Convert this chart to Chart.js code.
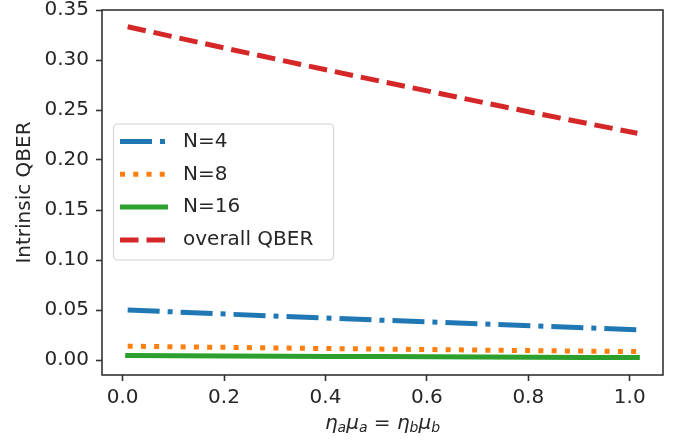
<!DOCTYPE html>
<html>
<head>
<meta charset="utf-8">
<script src="https://cdn.jsdelivr.net/npm/chart.js@4.4.0/dist/chart.umd.min.js"></script>
<style>
  html, body { margin: 0; padding: 0; background: #fff; }
  #wrap { width: 681px; height: 443px; }
</style>
</head>
<body>
<div id="wrap"><canvas id="chart" width="681" height="443"></canvas></div>
<script>
// values
const xValues = [0.01, 0.11, 0.21, 0.31, 0.41, 0.51, 0.61, 0.71, 0.81, 0.91, 1.015];
const qberN4 = [0.0500, 0.0479, 0.0458, 0.0438, 0.0418, 0.0398, 0.0379, 0.0360, 0.0341, 0.0322, 0.0302];
const qberN8 = [0.0138, 0.0132, 0.0126, 0.0120, 0.0114, 0.0109, 0.0104, 0.0099, 0.0094, 0.0089, 0.0084];
const qberN16 = [0.0046, 0.0043, 0.0041, 0.0038, 0.0036, 0.0034, 0.0032, 0.0030, 0.0028, 0.0026, 0.0024];
const qberOverall = [0.3333, 0.3221, 0.3110, 0.3001, 0.2893, 0.2786, 0.2681, 0.2576, 0.2473, 0.2372, 0.2267];
const seriesLabels = ['N=4', 'N=8', 'N=16', 'overall QBER'];
const xTicks = [0.0, 0.2, 0.4, 0.6, 0.8, 1.0];
const yTicks = [0.00, 0.05, 0.10, 0.15, 0.20, 0.25, 0.30, 0.35];

const FONT = "'DejaVu Sans', sans-serif";
const TEXT_COLOR = '#262626';
const AXIS_COLOR = '#333';

function toPoints(ys) {
    return xValues.map((x, i) => ({ x: x, y: ys[i] }));
}

const datasets = [
    { label: seriesLabels[0], data: toPoints(qberN4), borderColor: '#1f77b4', borderDash: [32, 8, 5, 8], borderCapStyle: 'butt', order: 4 },
    { label: seriesLabels[1], data: toPoints(qberN8), borderColor: '#ff7f0e', borderDash: [5, 8.25], borderCapStyle: 'butt', order: 3 },
    { label: seriesLabels[2], data: toPoints(qberN16), borderColor: '#2ca02c', borderDash: [], borderCapStyle: 'square', order: 2 },
    { label: seriesLabels[3], data: toPoints(qberOverall), borderColor: '#d62728', borderDash: [18.5, 8], borderCapStyle: 'butt', order: 1 },
].map(d => Object.assign(d, {
    borderWidth: 5,
    pointRadius: 0,
    tension: 0,
    fill: false,
}));

// frame, axis titles and in-plot legend
const decorations = {
    id: 'decorations',
    afterDatasetsDraw(chart) {
        const ctx = chart.ctx;
        const area = chart.chartArea;
        ctx.save();

        // frame
        ctx.strokeStyle = AXIS_COLOR;
        ctx.lineWidth = 1.6;
        ctx.strokeRect(area.left, area.top, area.right - area.left, area.bottom - area.top);

        // legend
        const bx = 113.5, by = 124, bw = 220, bh = 136, r = 4;
        ctx.beginPath();
        ctx.moveTo(bx + r, by);
        ctx.arcTo(bx + bw, by, bx + bw, by + bh, r);
        ctx.arcTo(bx + bw, by + bh, bx, by + bh, r);
        ctx.arcTo(bx, by + bh, bx, by, r);
        ctx.arcTo(bx, by, bx + bw, by, r);
        ctx.closePath();
        ctx.fillStyle = 'rgba(255,255,255,0.8)';
        ctx.fill();
        ctx.strokeStyle = '#d4d4d4';
        ctx.lineWidth = 1.2;
        ctx.stroke();

        chart.data.datasets.forEach((ds, i) => {
            const y = 141.5 + i * 32.8;
            ctx.beginPath();
            ctx.setLineDash(ds.borderDash);
            ctx.lineDashOffset = 0;
            ctx.lineCap = ds.borderCapStyle;
            ctx.strokeStyle = ds.borderColor;
            ctx.lineWidth = ds.borderWidth;
            const x0 = ds.borderCapStyle === 'square' ? 122.5 : 120;
            const x1 = ds.borderCapStyle === 'square' ? 165.5 : 168;
            ctx.moveTo(x0, y);
            ctx.lineTo(x1, y);
            ctx.stroke();
            ctx.setLineDash([]);
            ctx.fillStyle = TEXT_COLOR;
            ctx.font = '20px ' + FONT;
            ctx.textAlign = 'left';
            ctx.textBaseline = 'middle';
            ctx.fillText(ds.label, 183, y);
        });

        // y title
        ctx.save();
        ctx.translate(30, (area.top + area.bottom) / 2);
        ctx.rotate(-Math.PI / 2);
        ctx.fillStyle = TEXT_COLOR;
        ctx.font = '20px ' + FONT;
        ctx.textAlign = 'center';
        ctx.textBaseline = 'alphabetic';
        ctx.fillText('Intrinsic QBER', 0, 0);
        ctx.restore();

        // x title: eta_a mu_a = eta_b mu_b
        const big = 'italic 20px ' + FONT;
        const small = 'italic 14px ' + FONT;
        const parts = [
            { t: '\u03b7', f: big, dy: 0 },
            { t: 'a', f: small, dy: 3.5 },
            { t: '\u03bc', f: big, dy: 0 },
            { t: 'a', f: small, dy: 3.5 },
            { t: ' = ', f: '20px ' + FONT, dy: 0 },
            { t: '\u03b7', f: big, dy: 0 },
            { t: 'b', f: small, dy: 3.5 },
            { t: '\u03bc', f: big, dy: 0 },
            { t: 'b', f: small, dy: 3.5 },
        ];
        let total = 0;
        parts.forEach(p => { ctx.font = p.f; p.w = ctx.measureText(p.t).width; total += p.w; });
        let x = (area.left + area.right) / 2 - total / 2;
        ctx.textAlign = 'left';
        ctx.textBaseline = 'alphabetic';
        ctx.fillStyle = TEXT_COLOR;
        parts.forEach(p => {
            ctx.font = p.f;
            ctx.fillText(p.t, x, 428.5 + p.dy);
            x += p.w;
        });

        ctx.restore();
    }
};

new Chart(document.getElementById('chart'), {
    type: 'line',
    data: { datasets: datasets },
    options: {
        responsive: false,
        animation: false,
        devicePixelRatio: 1,
        layout: { padding: { left: 0, top: 10, right: 18, bottom: 0 } },
        plugins: {
            legend: { display: false },
            tooltip: { enabled: false },
        },
        scales: {
            x: {
                type: 'linear',
                min: -0.0406,
                max: 1.0656,
                afterBuildTicks: (scale) => { scale.ticks = xTicks.map(v => ({ value: v })); },
                afterFit: (scale) => {
                    scale.height = 68;
                    scale.paddingLeft = 0;
                    scale.paddingRight = 0;
                },
                border: { display: false },
                grid: { drawOnChartArea: false, drawTicks: true, tickLength: 6, tickWidth: 1.6, tickColor: AXIS_COLOR },
                ticks: {
                    padding: 7,
                    maxRotation: 0,
                    color: TEXT_COLOR,
                    font: { family: FONT, size: 20, lineHeight: 1 },
                    callback: (v) => Number(v).toFixed(1),
                },
            },
            y: {
                type: 'linear',
                min: -0.015,
                max: 0.35,
                afterBuildTicks: (scale) => { scale.ticks = yTicks.map(v => ({ value: v })); },
                afterFit: (scale) => {
                    scale.width = 102;
                    scale.paddingTop = 0;
                    scale.paddingBottom = 0;
                },
                border: { display: false },
                grid: { drawOnChartArea: false, drawTicks: true, tickLength: 6, tickWidth: 1.6, tickColor: AXIS_COLOR },
                ticks: {
                    padding: 7,
                    color: TEXT_COLOR,
                    font: { family: FONT, size: 20, lineHeight: 1 },
                    callback: (v) => Number(v).toFixed(2),
                },
            },
        },
    },
    plugins: [decorations],
});
</script>
</body>
</html>
